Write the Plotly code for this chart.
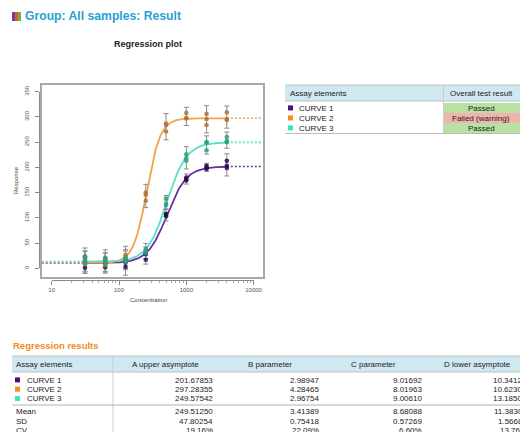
import numpy as np
import plotly.graph_objects as go

W, H = 520, 432

# ---------------- data ----------------
conc = [31.25, 62.5, 125, 250, 500, 1000, 2000, 4000]
curve_names = ["CURVE 1", "CURVE 2", "CURVE 3"]
test_results = ["Passed", "Failed (warning)", "Passed"]

resp_curve1 = [[1, 12, 22], [2, 10, 19], [3, 11, 17], [17, 28, 31],
               [103, 106, 108], [174, 177, 180], [197, 200, 203], [199, 203, 213]]
resp_curve2 = [[8, 15, 20], [6, 13, 18], [16, 22, 27], [134, 146, 150],
               [271, 284, 287], [297, 298, 308], [284, 296, 306], [294, 296, 309]]
resp_curve3 = [[9, 16, 24], [8, 15, 21], [12, 17, 22], [30, 35, 38],
               [125, 128, 138], [213, 218, 226], [234, 249, 250], [250, 252, 260]]
err_curve1 = [22, 20, 24, 17, 12, 10, 8, 22]
err_curve2 = [20, 18, 22, 23, 26, 18, 27, 22]
err_curve3 = [24, 22, 20, 15, 14, 22, 18, 16]

A_vals = [201.67853, 297.28355, 249.57542]
B_vals = [2.98947, 4.28465, 2.96754]
C_vals = [9.01692, 8.01963, 9.00610]
D_vals = [10.34121, 10.62303, 13.18504]

stat_labels = ["Mean", "SD", "CV"]
stat_rows = [["249.51250", "3.41389", "8.68088", "11.38309"],
             ["47.80254", "0.75418", "0.57269", "1.56680"],
             ["19.16%", "22.09%", "6.60%", "13.76%"]]
param_headers = ["A upper asymptote", "B parameter", "C parameter", "D lower asymptote"]

x_ticks = [10, 100, 1000, 10000]
y_ticks = [0, 50, 100, 150, 200, 250, 300, 350]

# ---------------- styles ----------------
FONT = "Liberation Sans, Arial, sans-serif"
line_colors = ["#6b2ea3", "#f6a245", "#55e2c4"]
point_colors = ["#2c0a50", "#b0763a", "#2f9f82"]
square_colors = ["#4b1080", "#ff8a1c", "#3fe0c8"]
TXT = "#222222"


def X(px):
    return px / W


def Y(py):
    return 1 - py / H


# plot geometry (pixels)
box_l, box_r, box_t, box_b = 41.7, 262.7, 85.0, 276.7
dec = 67.3            # px per decade
x10 = 51.7            # pixel of x = 10
y0px, y350px = 268.3, 91.7
ppu = (y0px - y350px) / 350.0

xr = [1 - (x10 - box_l) / dec, 1 + (box_r - x10) / dec]
yr = [(y0px - box_b) / ppu, (y0px - box_t) / ppu]

fig = go.Figure()

resp_all = [resp_curve1, resp_curve2, resp_curve3]
err_all = [err_curve1, err_curve2, err_curve3]

# fitted curves + dotted extensions
for i in range(3):
    A, B, C, D = A_vals[i], B_vals[i], C_vals[i], D_vals[i]
    ec50 = 2 ** C
    xs = np.logspace(np.log10(conc[0]), np.log10(conc[-1]), 240)
    ys = D + (A - D) / (1 + (xs / ec50) ** (-B))
    fig.add_trace(go.Scatter(x=xs, y=ys, mode="lines",
                             line=dict(color=line_colors[i], width=1.8),
                             hoverinfo="skip"))
    fig.add_trace(go.Scatter(x=[10 ** xr[0], conc[0]], y=[D, D], mode="lines",
                             line=dict(color=line_colors[i], width=1.6, dash="2px,2px"),
                             hoverinfo="skip"))
    fig.add_trace(go.Scatter(x=[conc[-1], 10 ** xr[1]], y=[A, A], mode="lines",
                             line=dict(color=line_colors[i], width=1.6, dash="2px,2px"),
                             hoverinfo="skip"))

# error bars
for i in range(3):
    means = [float(np.mean(r)) for r in resp_all[i]]
    fig.add_trace(go.Scatter(x=conc, y=means, mode="markers",
                             marker=dict(size=1, color="rgba(0,0,0,0)"),
                             error_y=dict(type="data", array=err_all[i], visible=True,
                                          color="#8a8a8a", thickness=1, width=2.5),
                             hoverinfo="skip"))

# points
for i in range(3):
    px, py = [], []
    for c, reps in zip(conc, resp_all[i]):
        for v in reps:
            px.append(c)
            py.append(v)
    fig.add_trace(go.Scatter(x=px, y=py, mode="markers",
                             marker=dict(size=4.6, color=point_colors[i], opacity=0.85),
                             name=curve_names[i]))

# dummy trace for R-style axes subplot
fig.add_trace(go.Scatter(x=[], y=[], xaxis="x2", yaxis="y2", hoverinfo="skip"))

axis_font = dict(family=FONT, size=6, color="#555555")

fig.update_layout(
    width=W, height=H, margin=dict(l=0, r=0, t=0, b=0, autoexpand=False),
    paper_bgcolor="white", plot_bgcolor="rgba(0,0,0,0)",
    showlegend=False,
    xaxis=dict(type="log", range=xr, domain=[X(box_l), X(box_r)],
               showline=True, mirror=True, linecolor="#a8a8a8", linewidth=1.5,
               showgrid=False, zeroline=False, ticks="", showticklabels=False),
    yaxis=dict(range=yr, domain=[Y(box_b), Y(box_t)],
               showline=True, mirror=True, linecolor="#a8a8a8", linewidth=1.5,
               showgrid=False, zeroline=False, ticks="", showticklabels=False),
    xaxis2=dict(type="log", range=[1, 4], domain=[X(x10), X(x10 + 3 * dec)],
                anchor="free", position=Y(280.0),
                showline=True, linecolor="#8a8a8a", linewidth=1,
                showgrid=False, zeroline=False,
                tickmode="array", tickvals=x_ticks, ticktext=[str(v) for v in x_ticks],
                ticks="outside", ticklen=4, tickcolor="#8a8a8a", tickwidth=1,
                minor=dict(tickmode="array",
                           tickvals=[m * 10 ** e for e in range(1, 4) for m in range(2, 10)],
                           ticks="outside", ticklen=2, tickcolor="#aaaaaa", tickwidth=1),
                tickfont=axis_font),
    yaxis2=dict(range=[0, 350], domain=[Y(y0px), Y(y350px)],
                anchor="free", position=X(39.3),
                showline=True, linecolor="#8a8a8a", linewidth=1,
                showgrid=False, zeroline=False,
                tickmode="array", tickvals=y_ticks, ticktext=[str(v) for v in y_ticks],
                ticks="outside", ticklen=4, tickcolor="#8a8a8a", tickwidth=1,
                ticklabelstandoff=4,
                tickangle=-90, tickfont=axis_font),
)

shapes = []
ann = []


def text(x, y, s, size=8, color=TXT, bold=False, xanchor="left", angle=0):
    if bold:
        s = "<b>" + s + "</b>"
    ann.append(dict(xref="paper", yref="paper", x=X(x), y=Y(y), text=s,
                    showarrow=False, xanchor=xanchor, yanchor="middle", textangle=angle,
                    font=dict(family=FONT, size=size, color=color), borderpad=0))


def rect(x0, y0, x1, y1, fill, line=None):
    shapes.append(dict(type="rect", xref="paper", yref="paper",
                       x0=X(x0), x1=X(x1), y0=Y(y1), y1=Y(y0),
                       fillcolor=fill, line=dict(width=0 if line is None else 1,
                                                 color=line or fill), layer="below"))


def hline(x0, x1, y, color="#bbbbbb", w=1):
    shapes.append(dict(type="line", xref="paper", yref="paper",
                       x0=X(x0), x1=X(x1), y0=Y(y), y1=Y(y),
                       line=dict(color=color, width=w)))


def vline(x, y0, y1, color="#cccccc", w=1):
    shapes.append(dict(type="line", xref="paper", yref="paper",
                       x0=X(x), x1=X(x), y0=Y(y0), y1=Y(y1),
                       line=dict(color=color, width=w)))


# title + icon
rect(12, 12, 15, 21, "#7a3a9c")
rect(15, 12, 18, 21, "#e25a2a")
rect(18, 12, 21, 21, "#6cb04a")
text(24, 16.5, "Group: All samples: Result", size=12.2, color="#2a9fd4", bold=True)
text(148, 44, "Regression plot", size=9, color="#222", bold=True, xanchor="center")

# axis titles
text(16, 180, "Response", size=6, color="#444", xanchor="center", angle=-90)
text(148, 300, "Concentration", size=6, color="#444", xanchor="center")

# ---- top-right table ----
rect(285, 85, 525, 101, "#cfe8f1")
hline(285, 525, 85, "#c0c0c0")
hline(285, 525, 101, "#c0c0c0")
row_y = [108, 118, 128]
cell_fill = {"Passed": "#b9e1a2", "Failed (warning)": "#f1b3ae"}
for i in range(3):
    rect(444, row_y[i] - 5, 525, row_y[i] + 5, cell_fill[test_results[i]])
vline(443.5, 85, 133)
hline(285, 525, 133.5, "#bbbbbb")
text(289, 93, "Assay elements", size=8)
text(481, 93, "Overall test result", size=8, xanchor="center")
for i in range(3):
    rect(288, row_y[i] - 2.6, 293, row_y[i] + 2.4, square_colors[i])
    text(298, row_y[i], curve_names[i], size=8)
    text(481, row_y[i], test_results[i], size=8, xanchor="center")

# ---- regression results table ----
text(12, 345, "Regression results", size=9.5, color="#f28a26", bold=True)
rect(12, 356, 525, 372, "#cfe8f1")
hline(12, 525, 356, "#c0c0c0")
hline(12, 525, 372, "#c0c0c0")
vline(113, 356, 440)
text(15, 364, "Assay elements", size=8)
col_right = [213.5, 319.5, 423, 527.5]
col_center = [165.5, 269.5, 373.5, 477.5]
for j in range(4):
    text(col_center[j], 364, param_headers[j], size=8, xanchor="center")
reg_y = [380, 389.3, 398.7]
for i in range(3):
    rect(15, reg_y[i] - 2.6, 20, reg_y[i] + 2.4, square_colors[i])
    text(26, reg_y[i], curve_names[i], size=8)
    vals = [f"{A_vals[i]:.5f}", f"{B_vals[i]:.5f}", f"{C_vals[i]:.5f}", f"{D_vals[i]:.5f}"]
    for j in range(4):
        text(col_right[j], reg_y[i], vals[j], size=8, xanchor="right")
hline(12, 525, 405, "#b0b0b0")
st_y = [411.7, 421, 430.3]
for i in range(3):
    text(15, st_y[i], stat_labels[i], size=8)
    for j in range(4):
        text(col_right[j], st_y[i], stat_rows[i][j], size=8, xanchor="right")

fig.update_layout(shapes=shapes, annotations=ann)
fig.write_html("out.html", config={"displayModeBar": False},
               post_script="document.body.style.margin='0px';")
